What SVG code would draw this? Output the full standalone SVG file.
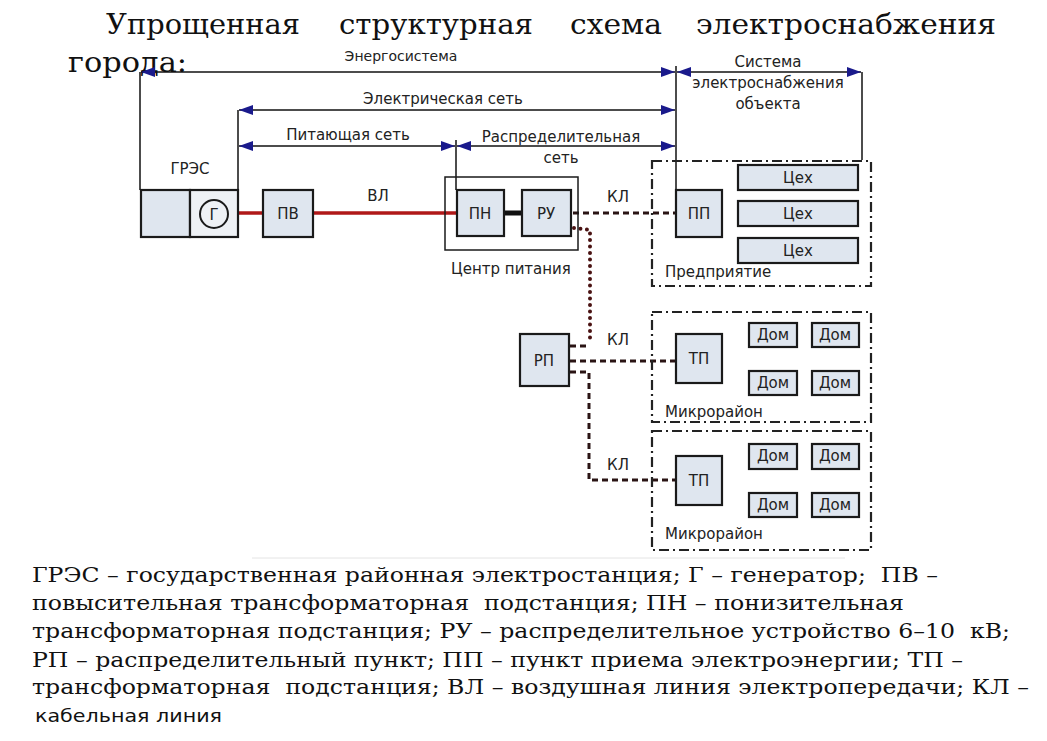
<svg xmlns="http://www.w3.org/2000/svg" width="1047" height="741" viewBox="0 0 1047 741">
<defs>
<style>
.title{font-family:"DejaVu Serif",serif;font-size:28.5px;fill:#111}
.leg{font-family:"DejaVu Serif",serif;font-size:20.5px;fill:#111;white-space:pre}
.lab{font-family:"DejaVu Sans","Liberation Sans",sans-serif;font-size:15px;fill:#222}
.sm{font-size:14px}
.box{fill:#dfe6ef;stroke:#1a1a1a;stroke-width:2.2}
.wbox{fill:none;stroke:#1a1a1a;stroke-width:1.5}
.dim{stroke:#111;stroke-width:1.6;fill:none}
.ext{stroke:#111;stroke-width:1.5;fill:none}
.zone{fill:none;stroke:#222;stroke-width:2.2;stroke-dasharray:10 4 2 4}
.kl{fill:none;stroke:#2a1414;stroke-width:3;stroke-dasharray:6 4}
.dot{fill:none;stroke:#4a1212;stroke-width:4;stroke-linecap:round;stroke-dasharray:0 6.5}
.red{stroke:#b01818;stroke-width:3.5;fill:none}
</style>
<marker id="ae" viewBox="0 0 14 10" refX="14" refY="5" markerWidth="14" markerHeight="10" markerUnits="userSpaceOnUse" orient="auto">
<path d="M0,0 L14,5 L0,10 Z" fill="#1a1a8c"/>
</marker>
<marker id="as" viewBox="0 0 14 10" refX="0" refY="5" markerWidth="14" markerHeight="10" markerUnits="userSpaceOnUse" orient="auto">
<path d="M14,0 L0,5 L14,10 Z" fill="#1a1a8c"/>
</marker>
</defs>
<rect width="1047" height="741" fill="#ffffff"/>

<g id="title">
<text class="title" x="106" y="34" textLength="194" lengthAdjust="spacingAndGlyphs">Упрощенная</text>
<text class="title" x="339" y="34" textLength="194" lengthAdjust="spacingAndGlyphs">структурная</text>
<text class="title" x="570" y="34" textLength="92" lengthAdjust="spacingAndGlyphs">схема</text>
<text class="title" x="696" y="34" textLength="300" lengthAdjust="spacingAndGlyphs">электроснабжения</text>
<text class="title" x="68" y="72" textLength="119" lengthAdjust="spacingAndGlyphs">города:</text>
</g>

<g id="dimensions">
<line class="ext" x1="140" y1="72" x2="140" y2="190"/>
<line class="ext" x1="238" y1="110" x2="238" y2="190"/>
<line class="ext" x1="456" y1="140" x2="456" y2="190"/>
<line class="ext" x1="676" y1="66" x2="676" y2="190"/>
<line class="ext" x1="862" y1="72" x2="862" y2="160"/>
<line class="dim" x1="141" y1="72" x2="675" y2="72" marker-start="url(#as)" marker-end="url(#ae)"/>
<line class="dim" x1="677" y1="72" x2="861" y2="72" marker-start="url(#as)" marker-end="url(#ae)"/>
<line class="dim" x1="239" y1="110" x2="675" y2="110" marker-start="url(#as)" marker-end="url(#ae)"/>
<line class="dim" x1="239" y1="146" x2="455" y2="146" marker-start="url(#as)" marker-end="url(#ae)"/>
<line class="dim" x1="457" y1="146" x2="675" y2="146" marker-start="url(#as)" marker-end="url(#ae)"/>
<text class="lab sm" x="401" y="61" text-anchor="middle">Энергосистема</text>
<text class="lab" x="443" y="104" text-anchor="middle">Электрическая сеть</text>
<text class="lab" x="348" y="140" text-anchor="middle">Питающая сеть</text>
<text class="lab" x="561" y="142" text-anchor="middle">Распределительная</text>
<text class="lab" x="561" y="163" text-anchor="middle">сеть</text>
<text class="lab" x="768" y="67" text-anchor="middle">Система</text>
<text class="lab" x="768" y="88" text-anchor="middle">электроснабжения</text>
<text class="lab" x="768" y="109" text-anchor="middle">объекта</text>
</g>

<g id="connectors">
<line class="red" x1="238" y1="213" x2="263" y2="213"/>
<line class="red" x1="313" y1="213" x2="457" y2="213"/>
<line stroke="#111" stroke-width="5" x1="503" y1="213" x2="522" y2="213"/>
<line class="kl" x1="573" y1="213" x2="676" y2="213"/>
<polyline class="dot" points="574,228 590,230 590,340"/>
<polyline class="kl" points="570,346 589,346"/>
<line class="kl" x1="570" y1="361" x2="676" y2="361"/>
<polyline class="kl" points="570,372 589,372 589,480 676,480"/>
<text class="lab" x="618" y="202" text-anchor="middle">КЛ</text>
<text class="lab" x="618" y="345" text-anchor="middle">КЛ</text>
<text class="lab" x="618" y="470" text-anchor="middle">КЛ</text>
<text class="lab" x="378" y="201" text-anchor="middle">ВЛ</text>
</g>

<g id="gres">
<text class="lab" x="190" y="174" text-anchor="middle">ГРЭС</text>
<rect class="box" x="141" y="190" width="49" height="47"/>
<rect x="190" y="190" width="48" height="47" fill="#eef1f5" stroke="#1a1a1a" stroke-width="2.2"/>
<circle cx="214" cy="214" r="14" fill="none" stroke="#1a1a1a" stroke-width="2"/>
<text class="lab" x="214" y="219.5" text-anchor="middle">Г</text>
</g>

<g id="pv">
<rect class="box" x="263" y="190" width="50" height="47"/>
<text class="lab" x="288" y="219" text-anchor="middle">ПВ</text>
</g>

<g id="center">
<rect class="wbox" x="445" y="177" width="133" height="73"/>
<text class="lab" x="511" y="274" text-anchor="middle">Центр питания</text>
</g>
<g id="pn">
<rect class="box" x="457" y="190" width="47" height="46"/>
<text class="lab" x="480" y="219" text-anchor="middle">ПН</text>
</g>
<g id="ru">
<rect class="box" x="522" y="190" width="49" height="46"/>
<text class="lab" x="546" y="219" text-anchor="middle">РУ</text>
</g>

<g id="rp">
<rect class="box" x="520" y="334" width="49" height="52"/>
<text class="lab" x="544" y="366" text-anchor="middle">РП</text>
</g>

<g id="enterprise">
<rect class="zone" x="652" y="161" width="219" height="125"/>
<rect class="box" x="676" y="190" width="46" height="47"/>
<text class="lab" x="699" y="219" text-anchor="middle">ПП</text>
<rect class="box" x="738" y="165" width="120" height="25"/>
<text class="lab" x="798" y="183" text-anchor="middle">Цех</text>
<rect class="box" x="738" y="201" width="120" height="25"/>
<text class="lab" x="798" y="219" text-anchor="middle">Цех</text>
<rect class="box" x="738" y="238" width="120" height="25"/>
<text class="lab" x="798" y="256" text-anchor="middle">Цех</text>
<text class="lab" x="665" y="277">Предприятие</text>
</g>

<g id="district1">
<rect class="zone" x="652" y="312" width="219" height="110"/>
<rect class="box" x="676" y="334" width="46" height="49"/>
<text class="lab" x="699" y="364" text-anchor="middle">ТП</text>
<rect class="box" x="749" y="323" width="48" height="24"/>
<text class="lab" x="773" y="340" text-anchor="middle">Дом</text>
<rect class="box" x="812" y="323" width="47" height="24"/>
<text class="lab" x="835" y="340" text-anchor="middle">Дом</text>
<rect class="box" x="749" y="371" width="48" height="24"/>
<text class="lab" x="773" y="388" text-anchor="middle">Дом</text>
<rect class="box" x="812" y="371" width="47" height="24"/>
<text class="lab" x="835" y="388" text-anchor="middle">Дом</text>
<text class="lab" x="665" y="417">Микрорайон</text>
</g>

<g id="district2">
<rect class="zone" x="652" y="431" width="219" height="119"/>
<rect class="box" x="676" y="456" width="46" height="49"/>
<text class="lab" x="699" y="486" text-anchor="middle">ТП</text>
<rect class="box" x="749" y="444" width="48" height="25"/>
<text class="lab" x="773" y="461" text-anchor="middle">Дом</text>
<rect class="box" x="812" y="444" width="47" height="25"/>
<text class="lab" x="835" y="461" text-anchor="middle">Дом</text>
<rect class="box" x="749" y="493" width="48" height="24"/>
<text class="lab" x="773" y="510" text-anchor="middle">Дом</text>
<rect class="box" x="812" y="493" width="47" height="24"/>
<text class="lab" x="835" y="510" text-anchor="middle">Дом</text>
<text class="lab" x="665" y="539">Микрорайон</text>
</g>

<line x1="252" y1="558" x2="845" y2="558" stroke="#e4e4e4" stroke-width="1"/>

<g id="legend">
<text class="leg" x="32" y="582" textLength="906" lengthAdjust="spacingAndGlyphs">ГРЭС – государственная районная электростанция; Г – генератор;  ПВ –</text>
<text class="leg" x="32" y="610" textLength="872" lengthAdjust="spacingAndGlyphs">повысительная трансформаторная  подстанция; ПН – понизительная</text>
<text class="leg" x="32" y="638" textLength="978" lengthAdjust="spacingAndGlyphs">трансформаторная подстанция; РУ – распределительное устройство 6–10  кВ;</text>
<text class="leg" x="32" y="667" textLength="931" lengthAdjust="spacingAndGlyphs">РП – распределительный пункт; ПП – пункт приема электроэнергии; ТП –</text>
<text class="leg" x="32" y="694" textLength="997" lengthAdjust="spacingAndGlyphs">трансформаторная  подстанция; ВЛ – воздушная линия электропередачи; КЛ –</text>
<text x="35" y="722" font-family="DejaVu Sans, Liberation Sans, sans-serif" font-size="18" fill="#111" textLength="187" lengthAdjust="spacingAndGlyphs">кабельная линия</text>
</g>
</svg>
